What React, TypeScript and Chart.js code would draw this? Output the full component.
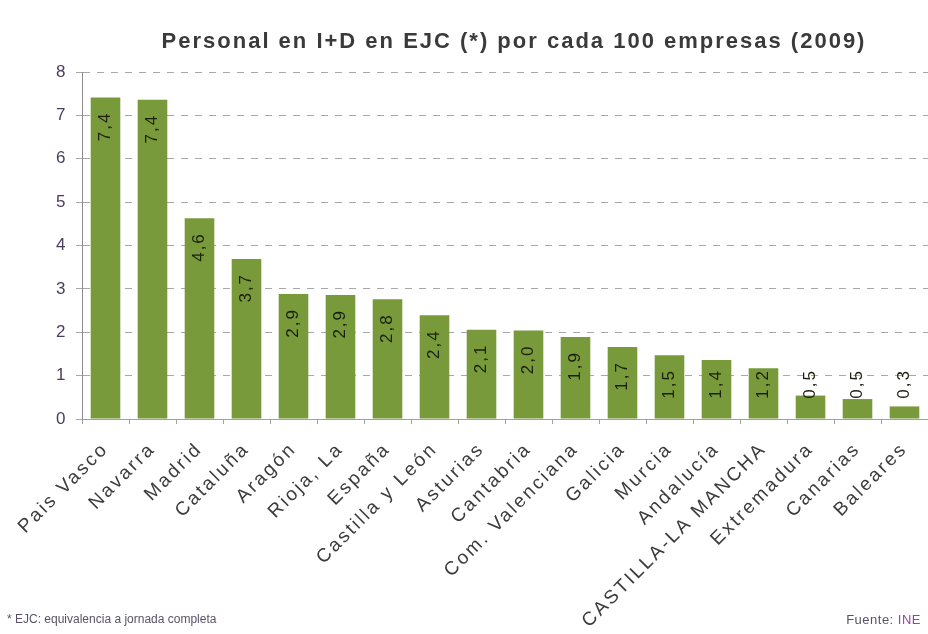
import React, { useEffect, useRef } from "react";
import { Chart, registerables } from "chart.js";

Chart.register(...registerables);

const titleText = "Personal en I+D en EJC (*) por cada 100 empresas (2009)";
const categories = [
  "Pais Vasco",
  "Navarra",
  "Madrid",
  "Cataluña",
  "Aragón",
  "Rioja, La",
  "España",
  "Castilla y León",
  "Asturias",
  "Cantabria",
  "Com. Valenciana",
  "Galicia",
  "Murcia",
  "Andalucía",
  "CASTILLA-LA MANCHA",
  "Extremadura",
  "Canarias",
  "Baleares",
];
const values = [7.41, 7.36, 4.63, 3.69, 2.88, 2.86, 2.76, 2.39, 2.06, 2.04, 1.89, 1.66, 1.47, 1.36, 1.17, 0.54, 0.46, 0.29];
const yMin = 0;
const yMax = 8;
const yStep = 1;
const footnoteText = "* EJC: equivalencia a jornada completa";
const sourceLabel = "Fuente: ";
const sourceName = "INE";

const FONT = "Arial, 'Liberation Sans', sans-serif";

const fmt = (v: number) => v.toFixed(1).replace(".", ",");

const spacingPlugin = {
  id: "spacing",
  beforeUpdate(chart: any) {
    chart.ctx.letterSpacing = "2.5px";
  },
  beforeDraw(chart: any) {
    chart.ctx.letterSpacing = "2.5px";
  },
};

const valueLabelPlugin = {
  id: "valueLabels",
  afterDatasetsDraw(chart: any) {
    const ctx = chart.ctx;
    const meta = chart.getDatasetMeta(0);
    const base = chart.scales.y.getPixelForValue(0);
    ctx.save();
    ctx.font = `17px ${FONT}`;
    ctx.letterSpacing = "2px";
    ctx.fillStyle = "#1a1f0e";
    ctx.textAlign = "right";
    ctx.textBaseline = "middle";
    meta.data.forEach((bar: any, i: number) => {
      const text = fmt(values[i]);
      const top = Math.min(bar.y + 14, base - 50);
      ctx.save();
      ctx.translate(bar.x, top);
      ctx.rotate(-Math.PI / 2);
      ctx.fillText(text, 0, 0);
      ctx.restore();
    });
    ctx.restore();
  },
};

const textPlugin = {
  id: "texts",
  afterDraw(chart: any) {
    const ctx = chart.ctx;
    ctx.save();
    ctx.font = `bold 22px ${FONT}`;
    ctx.letterSpacing = "2px";
    ctx.fillStyle = "#3a3a3a";
    ctx.textAlign = "center";
    ctx.textBaseline = "middle";
    ctx.fillText(titleText, 514, 42);

    ctx.font = `12px ${FONT}`;
    ctx.letterSpacing = "0px";
    ctx.textAlign = "left";
    ctx.fillStyle = "#5b5268";
    ctx.fillText(footnoteText, 7, 620);

    ctx.font = `13px ${FONT}`;
    ctx.letterSpacing = "0.5px";
    const w1 = ctx.measureText(sourceLabel).width;
    const w2 = ctx.measureText(sourceName).width;
    const x0 = 921 - w1 - w2;
    ctx.fillStyle = "#5b5268";
    ctx.fillText(sourceLabel, x0, 620);
    ctx.fillStyle = "#8e4a9a";
    ctx.fillText(sourceName, x0 + w1, 620);
    ctx.restore();
  },
};

export default function App() {
  const ref = useRef<HTMLCanvasElement | null>(null);

  useEffect(() => {
    if (!ref.current) return;
    const chart = new Chart(ref.current, {
      type: "bar",
      data: {
        labels: categories,
        datasets: [
          {
            data: values,
            backgroundColor: "#789a3b",
            borderWidth: 0,
            barPercentage: 0.63,
            categoryPercentage: 1,
          },
        ],
      },
      options: {
        animation: false,
        responsive: false,
        devicePixelRatio: 1,
        layout: { padding: { top: 72, right: 0, bottom: 0, left: 0 } },
        plugins: {
          legend: { display: false },
          title: { display: false },
          tooltip: { enabled: false },
        },
        scales: {
          x: {
            grid: {
              display: true,
              drawOnChartArea: false,
              drawTicks: true,
              tickLength: 5,
              color: "#a0a0a0",
              offset: true,
            },
            border: { display: true, color: "#a0a0a0", width: 1 },
            ticks: {
              autoSkip: false,
              minRotation: 45,
              maxRotation: 45,
              padding: 14,
              color: "#3c3c3c",
              font: { family: FONT, size: 19 },
            },
            afterFit(scale: any) {
              scale.height = 215;
              scale.paddingLeft = 0;
              scale.paddingRight = 0;
            },
          },
          y: {
            min: yMin,
            max: yMax,
            grid: {
              color: "#a8a8a8",
              lineWidth: 1,
              drawTicks: true,
              tickLength: 6,
            },
            border: { display: true, color: "#8c8c8c", width: 1, dash: [7, 7] },
            ticks: {
              stepSize: yStep,
              padding: 8,
              color: "#4b3d5e",
              font: { family: FONT, size: 17 },
            },
            afterFit(scale: any) {
              scale.width = 82;
              scale.paddingTop = 0;
              scale.paddingBottom = 0;
            },
          },
        },
      },
      plugins: [spacingPlugin, valueLabelPlugin, textPlugin],
    });
    return () => chart.destroy();
  }, []);

  return (
    <div style={{ position: "absolute", left: 0, top: 0, width: 928, height: 634, background: "#fff" }}>
      <canvas ref={ref} width={928} height={634} style={{ display: "block" }} />
    </div>
  );
}
